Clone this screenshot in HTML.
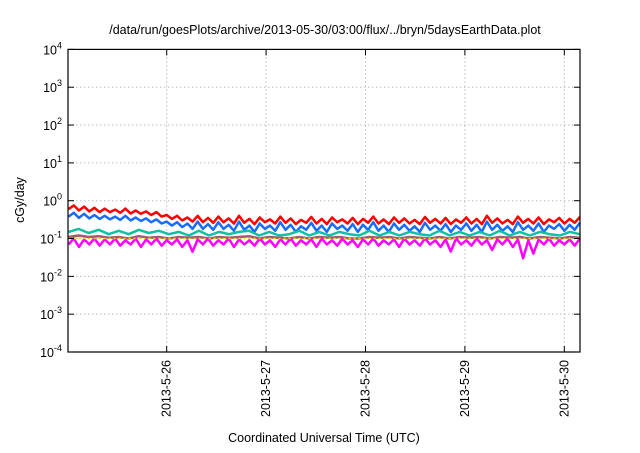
<!DOCTYPE html>
<html><head><meta charset="utf-8"><style>
body{margin:0;background:#fff;width:640px;height:448px;overflow:hidden}
svg text{font-family:"Liberation Sans",sans-serif;fill:#000}
</style></head><body>
<svg id="c" width="640" height="448">
<text x="325" y="34" font-size="12.5" text-anchor="middle">/data/run/goesPlots/archive/2013-05-30/03:00/flux/../bryn/5daysEarthData.plot</text>
<text x="324" y="442" font-size="12.5" text-anchor="middle">Coordinated Universal Time (UTC)</text>
<text transform="translate(24,200) rotate(-90)" font-size="12.5" text-anchor="middle">cGy/day</text>
<g id="grid"></g><g id="series"></g><g id="axes"></g>
</svg>
<script>
const decades=[-4,-3,-2,-1,0,1,2,3,4];
const dayTicks=["2013-5-26","2013-5-27","2013-5-28","2013-5-29","2013-5-30"];
const dayVals=[1,2,3,4,5];
const red=[0.6,0.75,0.55,0.7,0.52,0.65,0.5,0.62,0.5,0.58,0.48,0.62,0.46,0.55,0.45,0.52,0.42,0.5,0.38,0.42,0.33,0.4,0.3,0.36,0.28,0.4,0.27,0.35,0.26,0.38,0.27,0.34,0.25,0.4,0.26,0.33,0.24,0.36,0.27,0.32,0.25,0.38,0.26,0.34,0.24,0.31,0.26,0.37,0.25,0.33,0.24,0.36,0.27,0.32,0.25,0.35,0.24,0.33,0.26,0.38,0.25,0.32,0.24,0.36,0.26,0.34,0.25,0.31,0.24,0.37,0.26,0.33,0.25,0.35,0.24,0.32,0.26,0.36,0.25,0.33,0.24,0.4,0.26,0.34,0.25,0.31,0.24,0.38,0.26,0.33,0.25,0.36,0.24,0.32,0.27,0.35,0.25,0.33,0.26,0.37];
const blue=[0.38,0.48,0.35,0.45,0.34,0.42,0.33,0.4,0.32,0.38,0.31,0.4,0.3,0.36,0.29,0.34,0.27,0.32,0.25,0.28,0.22,0.27,0.2,0.25,0.18,0.28,0.18,0.24,0.17,0.27,0.18,0.23,0.16,0.28,0.17,0.22,0.15,0.25,0.18,0.22,0.16,0.27,0.17,0.23,0.15,0.21,0.17,0.26,0.16,0.22,0.15,0.25,0.18,0.22,0.16,0.24,0.15,0.23,0.17,0.27,0.16,0.22,0.15,0.25,0.17,0.23,0.16,0.21,0.15,0.26,0.17,0.22,0.16,0.24,0.15,0.22,0.17,0.25,0.16,0.23,0.15,0.28,0.17,0.23,0.16,0.21,0.15,0.27,0.17,0.22,0.16,0.25,0.15,0.22,0.18,0.24,0.16,0.23,0.17,0.26];
const teal=[0.15,0.18,0.14,0.17,0.13,0.16,0.13,0.17,0.14,0.16,0.13,0.15,0.12,0.16,0.12,0.15,0.13,0.15,0.16,0.12,0.15,0.12,0.13,0.16,0.12,0.15,0.12,0.15,0.13,0.12,0.16,0.12,0.15,0.12,0.15,0.13,0.12,0.16,0.12,0.15,0.12,0.15,0.12,0.16,0.12,0.15,0.12,0.15,0.13,0.12,0.15,0.13];
const brown=[0.11,0.12,0.11,0.115,0.105,0.11,0.1,0.115,0.105,0.11,0.1,0.11,0.105,0.11,0.1,0.11,0.105,0.11,0.115,0.1,0.11,0.105,0.1,0.11,0.1,0.11,0.105,0.11,0.1,0.1,0.11,0.105,0.11,0.1,0.11,0.105,0.1,0.11,0.1,0.11,0.105,0.11,0.1,0.11,0.105,0.11,0.1,0.11,0.105,0.1,0.11,0.105];
const magenta=[0.07,0.1,0.06,0.095,0.07,0.1,0.065,0.095,0.07,0.1,0.065,0.09,0.07,0.1,0.06,0.095,0.07,0.1,0.065,0.09,0.07,0.095,0.06,0.09,0.045,0.095,0.07,0.1,0.065,0.09,0.07,0.1,0.06,0.095,0.07,0.09,0.065,0.1,0.07,0.09,0.06,0.095,0.07,0.1,0.065,0.09,0.07,0.095,0.06,0.1,0.07,0.09,0.065,0.1,0.07,0.09,0.06,0.095,0.07,0.1,0.065,0.09,0.07,0.095,0.06,0.1,0.07,0.09,0.065,0.1,0.07,0.09,0.06,0.095,0.045,0.1,0.07,0.09,0.065,0.1,0.07,0.09,0.05,0.095,0.07,0.1,0.06,0.095,0.03,0.09,0.04,0.095,0.07,0.1,0.065,0.09,0.07,0.095,0.065,0.1];
const yellow=[0.1,0.1,0.1,0.1,0.1,0.1,0.1,0.1,0.1,0.1,0.1,0.1,0.1,0.1,0.1,0.1,0.1,0.1,0.1,0.1,0.1,0.1,0.1,0.1,0.1,0.1,0.1,0.1,0.1,0.1,0.1,0.1,0.1,0.1,0.1,0.1,0.1,0.1,0.1,0.1,0.1,0.1,0.1,0.1,0.1,0.1,0.1,0.1,0.1,0.1,0.1,0.1];
const L=68,R=580,T=49.4,B=352;
const X=d=>166.7+(d-1)*99.4;
const Y=v=>B-(Math.log10(v)+4)*(B-T)/8;
const tStart=0.013,tEnd=5.157;
const ns="http://www.w3.org/2000/svg";
function mk(tag,attrs,parent){const e=document.createElementNS(ns,tag);for(const k in attrs)e.setAttribute(k,attrs[k]);parent.appendChild(e);return e;}
const grid=document.getElementById('grid'),axes=document.getElementById('axes'),ser=document.getElementById('series');
decades.forEach(d=>{const y=Y(Math.pow(10,d));
 if(d>-4&&d<4){const g=mk('line',{x1:L,x2:R,y1:y,y2:y,stroke:'#bbb','stroke-dasharray':'1.5,2.5'},grid);
 
 }
 const t=mk('text',{x:L-6,y:y+5,'font-size':'12.5','text-anchor':'end'},axes);
 
 
 t.textContent='10';const s=mk('tspan',{dy:-6,'font-size':'9'},t);s.textContent=d;
 mk('line',{x1:L,x2:L+6,y1:y,y2:y,stroke:'#000'},axes);mk('line',{x1:R,x2:R-6,y1:y,y2:y,stroke:'#000'},axes);
});
dayVals.forEach((d,i)=>{const x=X(d);
 const g=mk('line',{x1:x,x2:x,y1:T,y2:B,stroke:'#bbb','stroke-dasharray':'1.5,2.5'},grid);
 
 
 mk('line',{x1:x,x2:x,y1:B,y2:B-6,stroke:'#000'},axes);mk('line',{x1:x,x2:x,y1:T,y2:T+6,stroke:'#000'},axes);
 const t=mk('text',{transform:`translate(${x+4},${B+8}) rotate(-90)`,'font-size':'12.5','text-anchor':'end'},axes);
 
 
 t.textContent=dayTicks[i];
});
const fr=mk('rect',{x:L,y:T,width:R-L,height:B-T,fill:'none',stroke:'#000','stroke-width':1.2},axes);


function line(arr,color,w,name,dash){
 const pts=arr.map((v,i)=>{const d=tStart+(tEnd-tStart)*i/(arr.length-1);return X(d).toFixed(1)+','+Y(v).toFixed(1);}).join(' ');
 const p=mk('polyline',{points:pts,fill:'none',stroke:color,'stroke-width':w,'stroke-linejoin':'round'},ser);
 if(dash)p.setAttribute('stroke-dasharray',dash);
 
 
}
line(red,'#ff0000',2.5,'series-red');
line(blue,'#1a6cff',2.5,'series-blue');
line(teal,'#10c0a0',2.5,'series-teal');
line(brown,'#a05a6a',2.5,'series-brown');
line(magenta,'#ff00ff',2.5,'series-magenta');
line(yellow,'#e8e000',1.5,'series-yellow','2,3');
</script>
</body></html>
